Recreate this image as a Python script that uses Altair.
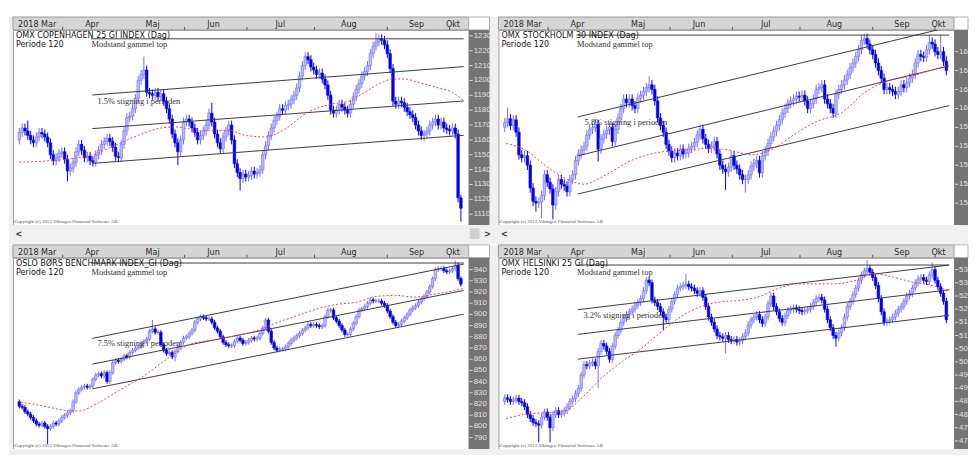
import altair as alt
import pandas as pd

W = 460
H_TOP = 197
H_BOT = 193
X_DOMAIN = [-0.5, 157.0]

NARROW = "Liberation Sans Narrow, DejaVu Sans Condensed, Liberation Sans, sans-serif"
SANS = "Liberation Sans, Arial, sans-serif"
SERIF = "Liberation Serif, DejaVu Serif, serif"

months = ["2018 Mar", "Apr", "Maj", "Jun", "Jul", "Aug", "Sep", "Okt"]
month_pos = [6.3, 25.7, 47.1, 68.6, 92.2, 116.4, 140.3, 153.2]
header_ticks = [15.3, 58.4, 80.4, 104.3, 130.0, 152.0]

chan_i = [25.8, 157.0]

# ---------------- OMX Copenhagen 25 GI ----------------
cph_close = [1165,1168,1166,1163,1160,1158,1162,1165,1164,1162,
             1158,1150,1146,1148,1151,1152,1147,1139,1141,1145,
             1152,1157,1153,1148,1149,1146,1145,1150,1153,1157,
             1159,1161,1159,1155,1149,1148,1157,1166,1175,1176,
             1181,1188,1200,1204,1207,1192,1191,1190,1192,1189,
             1191,1186,1181,1174,1164,1158,1152,1160,1172,1174,
             1172,1168,1165,1160,1163,1166,1170,1178,1172,1164,
             1158,1154,1162,1166,1170,1160,1144,1138,1134,1137,
             1135,1136,1139,1137,1138,1140,1150,1156,1163,1168,
             1173,1176,1181,1180,1183,1184,1187,1190,1195,1203,
             1210,1216,1214,1209,1207,1204,1205,1201,1197,1190,
             1180,1178,1180,1184,1182,1180,1178,1184,1189,1194,
             1198,1203,1206,1210,1218,1223,1226,1228,1227,1224,
             1218,1208,1186,1184,1186,1185,1182,1179,1177,1175,
             1170,1166,1163,1164,1166,1170,1172,1174,1170,1172,
             1168,1167,1166,1168,1164,1121,1114]
cph_open0 = 1160
cph_wick = 3.0
cph_hi = {3: 1173, 44: 1216, 68: 1185, 126: 1232, 127: 1231, 156: 1123}
cph_lo = {17: 1132, 56: 1143, 78: 1126, 143: 1159, 156: 1105}
cph_ydom = [1102.7, 1234.0]
cph_ticks = [1110, 1120, 1130, 1140, 1150, 1160, 1170, 1180, 1190, 1200, 1210, 1220, 1230]
cph_ma_i = [0, 11, 19, 26, 34, 42, 50, 55, 64, 74, 80, 87, 94, 102, 110, 117, 122, 127, 132, 136, 141, 148, 153, 157]
cph_ma_v = [1145, 1146, 1147.5, 1150, 1156.5, 1163, 1168, 1168.7, 1166.4, 1166.4, 1163, 1162, 1167.5,
            1178.7, 1184, 1186.4, 1192, 1197.6, 1201, 1201, 1198.7, 1195, 1192, 1186.4]
cph_chan_top = [1190.2, 1209.3]
cph_chan_mid = [1167.6, 1186.2]
cph_chan_bot = [1144.2, 1163.1]
cph_resist = 1228.0
cph_note_v = 1224.4
cph_pct = "1.5% stigning i perioden"
cph_pct_pos = [27.6, 1186.0]

# ---------------- OMX Stockholm 30 ----------------
sto_close = [1585,1589,1582,1588,1575,1551,1548,1550,1540,1516,
             1502,1500,1501,1508,1530,1522,1515,1498,1512,1525,
             1520,1518,1512,1525,1530,1545,1552,1556,1560,1572,
             1578,1580,1583,1557,1568,1573,1577,1580,1565,1578,
             1590,1600,1610,1606,1610,1603,1600,1611,1614,1618,
             1622,1625,1620,1608,1590,1582,1575,1562,1555,1548,
             1553,1550,1557,1552,1553,1558,1560,1564,1572,1578,
             1568,1562,1558,1560,1565,1552,1540,1536,1533,1538,
             1550,1540,1536,1530,1525,1525,1530,1539,1542,1545,
             1532,1550,1555,1563,1570,1576,1582,1588,1595,1600,
             1605,1608,1610,1613,1612,1614,1608,1600,1605,1610,
             1620,1622,1625,1610,1605,1600,1595,1615,1620,1625,
             1630,1636,1643,1648,1655,1662,1672,1674,1668,1662,
             1657,1648,1640,1632,1620,1622,1620,1618,1615,1618,
             1625,1622,1627,1632,1636,1648,1657,1655,1654,1662,
             1670,1668,1660,1657,1660,1650,1640]
sto_open0 = 1580
sto_wick = 5.0
sto_hi = {1: 1601, 51: 1634, 126: 1678, 150: 1677, 154: 1678}
sto_lo = {11: 1491, 13: 1484, 17: 1483, 33: 1544, 78: 1514, 85: 1511}
sto_ydom = [1476.8, 1683.0]
sto_ticks = [1500, 1520, 1540, 1560, 1580, 1600, 1620, 1640, 1660]
sto_ma_i = [0.5, 7.3, 14.2, 22.1, 27.9, 35.8, 45, 55.3, 64.4, 73.5, 79.2, 87.2, 95.2, 102, 110, 119.2,
            127.2, 135.2, 144.3, 150, 156.8]
sto_ma_v = [1563, 1556, 1540, 1525, 1520, 1530, 1545.5, 1554, 1556, 1558, 1556, 1551, 1558, 1572, 1586,
            1596, 1617, 1629, 1634.5, 1640, 1646]
sto_chan_top = [1591.0, 1686.0]
sto_chan_mid = [1550.0, 1645.0]
sto_chan_bot = [1509.6, 1603.0]
sto_resist = 1677.5
sto_note_v = 1668.4
sto_pct = "5.8% stigning i perioden"
sto_pct_pos = [28.2, 1585.7]

# ---------------- Oslo Børs Benchmark ----------------
osl_close = [818,817,813,811,808,805,802,801,803,800,
             798,800,803,802,805,808,810,812,814,822,
             830,833,835,836,835,836,842,846,847,845,
             848,840,848,857,859,858,860,863,862,866,
             868,870,871,874,876,878,885,887,884,884,
             873,868,865,866,862,867,871,875,879,880,
             883,886,893,896,898,897,896,896,893,888,
             885,880,875,873,872,872,876,879,877,874,
             875,877,879,878,879,883,888,895,885,875,
             870,868,869,869,871,874,877,879,881,883,
             886,888,891,890,891,890,889,890,898,904,
             904,897,894,890,886,882,882,887,892,898,
             904,905,907,910,913,912,912,912,910,908,
             903,898,893,890,891,894,897,900,904,906,
             908,911,914,916,920,925,932,940,941,941,
             939,938,939,941,944,932,927]
osl_open0 = 822
osl_wick = 2.0
osl_hi = {47: 895, 154: 948}
osl_lo = {10: 784, 55: 858, 134: 888}
osl_ydom = [779.8, 950.6]
osl_ticks = [790, 800, 810, 820, 830, 840, 850, 860, 870, 880, 890, 900, 910, 920, 930, 940]
osl_ma_i = [0.5, 7.3, 16.4, 21, 27.9, 35.8, 43.8, 51.8, 59.8, 67.8, 75.8, 83.8, 91.8, 98.6, 105.5,
            112.3, 119.2, 126, 132.9, 139.7, 146.5, 153.4, 156.8]
osl_ma_v = [821.7, 818.8, 814.3, 813.7, 821, 833, 844.7, 859.5, 872.7, 877, 880.7, 885.4, 893.4, 899.3,
            905.2, 909, 911, 916, 917, 915.5, 918, 921, 923]
osl_chan_top = [878.6, 945.0]
osl_chan_mid = [855.6, 921.4]
osl_chan_bot = [833.5, 900.2]
osl_resist = 945.9
osl_note_v = 938.2
osl_pct = "7.5% stigning i perioden"
osl_pct_pos = [27.6, 874.2]

# ---------------- OMX Helsinki 25 GI ----------------
hel_close = [4864,4858,4850,4855,4862,4850,4845,4830,4800,4785,
             4770,4765,4760,4790,4810,4790,4750,4800,4815,4800,
             4805,4815,4830,4850,4860,4880,4900,4950,4990,4985,
             4995,5000,4985,5040,5070,5060,5040,5010,5060,5100,
             5120,5150,5165,5180,5190,5200,5215,5225,5240,5270,
             5310,5300,5235,5225,5210,5190,5170,5160,5200,5230,
             5255,5280,5285,5290,5295,5285,5280,5270,5260,5270,
             5245,5210,5170,5150,5125,5100,5095,5090,5100,5085,
             5080,5085,5075,5080,5095,5110,5140,5160,5170,5180,
             5160,5145,5170,5220,5250,5210,5190,5165,5150,5175,
             5195,5200,5205,5200,5195,5190,5195,5200,5210,5225,
             5240,5245,5235,5200,5160,5130,5100,5090,5110,5130,
             5170,5210,5230,5255,5280,5310,5330,5345,5355,5340,
             5320,5290,5240,5190,5150,5155,5160,5170,5185,5200,
             5210,5230,5250,5260,5280,5300,5315,5320,5310,5305,
             5330,5350,5310,5285,5260,5230,5160]
hel_open0 = 4850
hel_wick = 13.0
hel_hi = {50: 5322, 64: 5334, 128: 5386, 151: 5377}
hel_lo = {12: 4695, 16: 4695, 33: 4901, 56: 5121, 78: 5033, 117: 5058}
hel_ydom = [4669.5, 5395.1]
hel_ticks = [4700, 4750, 4800, 4850, 4900, 4950, 5000, 5050, 5100, 5150, 5200, 5250, 5300, 5350]
hel_ma_i = [0.5, 7.3, 14.2, 21, 27.9, 33.6, 41.6, 48.4, 55.3, 62.1, 68.9, 75.8, 82.6, 89.5, 96.3, 103.2,
            110, 116.9, 123.7, 130.6, 137.4, 144.3, 151.1, 156.8]
hel_ma_v = [4785, 4801, 4807, 4814, 4870, 4933, 5002, 5052, 5114, 5171, 5208, 5227, 5233, 5246, 5277,
            5296, 5296, 5296, 5309, 5334, 5321, 5302, 5290, 5271]
hel_chan_top = [5198.0, 5367.5]
hel_chan_mid = [5104.4, 5273.6]
hel_chan_bot = [5010.4, 5177.0]
hel_resist = 5367.5
hel_note_v = 5342.5
hel_pct = "3.2% stigning i perioden"
hel_pct_pos = [27.8, 5178.0]

note_text = "Modstand gammel top"
note_i = 25.5
resist_i = [25.3, 157.0]
copyright_text = "Copyright (c) 2013 Vikingen Financial Software AB"


def candle_frame(closes, first_open, wick, hi_over, lo_over):
    rows = []
    prev = first_open
    for i, c in enumerate(closes):
        o = prev
        top, bot = max(o, c), min(o, c)
        h = max(hi_over.get(i, top + wick), top)
        l = min(lo_over.get(i, bot - wick), bot)
        rows.append(dict(i=i, o=o, c=c, h=h, l=l, d="up" if c >= o else "down"))
        prev = c
    return pd.DataFrame(rows)


def panel(title, closes, open0, wick, hi, lo, ydom, ticks, ma_i, ma_v,
          ctop, cmid, cbot, resist, note_v, pct, pct_pos, h, right, top_row):
    xs = alt.Scale(domain=X_DOMAIN, nice=False, zero=False)
    ys = alt.Scale(domain=ydom, nice=False, zero=False)
    X = lambda f: alt.X(f, scale=xs, axis=None)
    Y = lambda f: alt.Y(f, scale=ys, axis=None)
    one = alt.Chart(pd.DataFrame({"k": [0]}))
    band_end = 474 if right else 481
    strip_bottom = h + (19 if top_row else 6)
    L = []
    # window chrome
    if not right:
        L.append(one.mark_rect(color="#f0f0f0").encode(
            x=alt.value(-4), x2=alt.value(0), y=alt.value(-13), y2=alt.value(strip_bottom)))
        L.append(one.mark_rect(color="#f0f0f0").encode(
            x=alt.value(460), x2=alt.value(490), y=alt.value(-13), y2=alt.value(strip_bottom)))
    L.append(one.mark_rect(color="#f0f0f0").encode(
        x=alt.value(0), x2=alt.value(band_end), y=alt.value(h), y2=alt.value(strip_bottom)))
    L.append(one.mark_rect(fill="#d5d5d5", stroke="#9a9a9a", strokeWidth=1).encode(
        x=alt.value(0), x2=alt.value(460), y=alt.value(-13), y2=alt.value(0)))
    L.append(one.mark_rect(fill="white", stroke="#b0b0b0", strokeWidth=1).encode(
        x=alt.value(460), x2=alt.value(band_end), y=alt.value(-13), y2=alt.value(0)))
    L.append(one.mark_rect(color="#747474").encode(
        x=alt.value(460), x2=alt.value(band_end), y=alt.value(0), y2=alt.value(h)))
    if top_row:
        L.append(one.mark_text(text="<", font=SANS, fontSize=10, fontWeight="bold", color="#333",
                               align="left", baseline="middle").encode(x=alt.value(3), y=alt.value(h + 9)))
        if not right:
            L.append(one.mark_rect(color="#d0d0d0").encode(
                x=alt.value(461), x2=alt.value(471), y=alt.value(h + 3), y2=alt.value(h + 14)))
            L.append(one.mark_text(text=">", font=SANS, fontSize=10, fontWeight="bold", color="#333",
                                   align="left", baseline="middle").encode(x=alt.value(476), y=alt.value(h + 9)))
    # header months
    mdf = pd.DataFrame({"m": months, "pos": month_pos})
    L.append(alt.Chart(mdf).mark_text(font=NARROW, fontSize=9, color="#2a2a2a", align="center",
                                      baseline="middle").encode(x=X("pos:Q"), y=alt.value(-6), text="m:N"))
    tdf = pd.DataFrame({"pos": header_ticks})
    L.append(alt.Chart(tdf).mark_rule(color="#555", strokeWidth=1).encode(
        x=X("pos:Q"), y=alt.value(-3), y2=alt.value(0)))
    # candles
    cdf = candle_frame(closes, open0, wick, hi, lo)
    st = alt.Stroke("d:N", scale=alt.Scale(domain=["up", "down"], range=["#6f6fff", "#0000f0"]), legend=None)
    fl = alt.Fill("d:N", scale=alt.Scale(domain=["up", "down"], range=["#b8b8ff", "#0000f0"]), legend=None)
    L.append(alt.Chart(cdf).mark_rule(strokeWidth=1, clip=True).encode(
        x=X("i:Q"), y=Y("l:Q"), y2="h:Q", stroke=st))
    L.append(alt.Chart(cdf).mark_bar(size=2.6, strokeWidth=0.6, clip=True).encode(
        x=X("i:Q"), y=Y("o:Q"), y2="c:Q", fill=fl, stroke=st))
    # channel + resistance lines
    ldf = pd.DataFrame({
        "x1": [chan_i[0], chan_i[0], chan_i[0], resist_i[0]],
        "x2": [chan_i[1], chan_i[1], chan_i[1], resist_i[1]],
        "y1": [ctop[0], cmid[0], cbot[0], resist],
        "y2": [ctop[1], cmid[1], cbot[1], resist],
    })
    L.append(alt.Chart(ldf).mark_rule(color="#3c3c3c", strokeWidth=1, clip=True).encode(
        x=X("x1:Q"), x2="x2:Q", y=Y("y1:Q"), y2="y2:Q"))
    # moving average
    madf = pd.DataFrame({"i": ma_i, "v": ma_v})
    L.append(alt.Chart(madf).mark_line(color="#ff3a3a", strokeWidth=1, strokeDash=[2, 2],
                                       interpolate="monotone", clip=True).encode(x=X("i:Q"), y=Y("v:Q")))
    # texts
    L.append(one.mark_text(text=title, font=NARROW, fontSize=9, color="#151515", align="left",
                           baseline="middle").encode(x=alt.value(3), y=alt.value(5)))
    L.append(one.mark_text(text="Periode 120", font=NARROW, fontSize=9, color="#151515", align="left",
                           baseline="middle").encode(x=alt.value(3), y=alt.value(14)))
    ndf = pd.DataFrame({"t": [note_text, pct], "i": [note_i, pct_pos[0]], "v": [note_v, pct_pos[1]]})
    L.append(alt.Chart(ndf).mark_text(font=SERIF, fontSize=8.5, color="#303030", align="left",
                                      baseline="middle").encode(x=X("i:Q"), y=Y("v:Q"), text="t:N"))
    L.append(one.mark_text(text=copyright_text, font=SERIF, fontSize=5, color="#505050", align="left",
                           baseline="middle").encode(x=alt.value(1), y=alt.value(h - 4)))
    # price axis (right)
    kdf = pd.DataFrame({"v": ticks, "t": [str(t) for t in ticks]})
    L.append(alt.Chart(kdf).mark_rule(color="#dedede", strokeWidth=1).encode(
        x=alt.value(461), x2=alt.value(464), y=Y("v:Q")))
    tkw = dict(font=SANS, fontSize=8, color="#e2e2e2", align="left", baseline="middle")
    if right:
        tkw.update(limit=9, ellipsis="\u200b")
    L.append(alt.Chart(kdf).mark_text(**tkw).encode(x=alt.value(465), y=Y("v:Q"), text="t:N"))
    return alt.layer(*L).properties(width=W, height=h)


p1 = panel("OMX COPENHAGEN 25 GI INDEX (Dag)", cph_close, cph_open0, cph_wick, cph_hi, cph_lo, cph_ydom,
           cph_ticks, cph_ma_i, cph_ma_v, cph_chan_top, cph_chan_mid, cph_chan_bot, cph_resist, cph_note_v,
           cph_pct, cph_pct_pos, H_TOP, False, True)
p2 = panel("OMX STOCKHOLM 30 INDEX (Dag)", sto_close, sto_open0, sto_wick, sto_hi, sto_lo, sto_ydom,
           sto_ticks, sto_ma_i, sto_ma_v, sto_chan_top, sto_chan_mid, sto_chan_bot, sto_resist, sto_note_v,
           sto_pct, sto_pct_pos, H_TOP, True, True)
p3 = panel("OSLO BØRS BENCHMARK INDEX_GI (Dag)", osl_close, osl_open0, osl_wick, osl_hi, osl_lo, osl_ydom,
           osl_ticks, osl_ma_i, osl_ma_v, osl_chan_top, osl_chan_mid, osl_chan_bot, osl_resist, osl_note_v,
           osl_pct, osl_pct_pos, H_BOT, False, False)
p4 = panel("OMX HELSINKI 25 GI (Dag)", hel_close, hel_open0, hel_wick, hel_hi, hel_lo, hel_ydom,
           hel_ticks, hel_ma_i, hel_ma_v, hel_chan_top, hel_chan_mid, hel_chan_bot, hel_resist, hel_note_v,
           hel_pct, hel_pct_pos, H_BOT, True, False)

chart = alt.concat(p1, p2, p3, p4, columns=2, spacing={"row": 33, "column": 30}, bounds="flush").properties(
    padding={"left": 0, "top": 6, "right": 0, "bottom": 0}, background="white"
).configure_view(stroke="#9c9c9c", strokeWidth=1)

chart.save("out.html", embed_options={"renderer": "svg", "actions": False})
